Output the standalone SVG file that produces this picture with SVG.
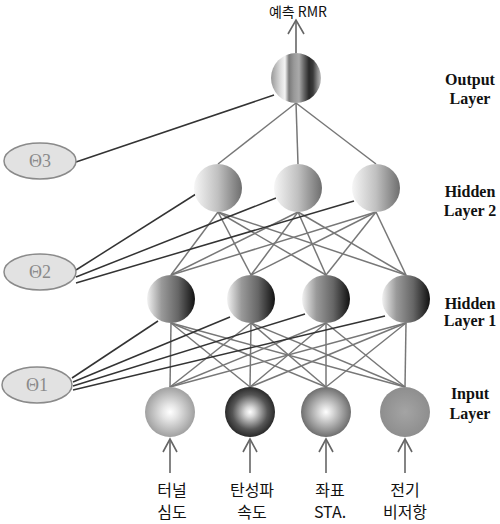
<svg xmlns="http://www.w3.org/2000/svg" width="500" height="524" viewBox="0 0 500 524">
<defs>
<style>
.w{stroke:#777;stroke-width:1.5;fill:none}
.b{stroke:#333;stroke-width:1.5;fill:none}
.ar{stroke:#666;stroke-width:1.6;fill:none}
.th{fill:#e2e2e2;stroke:#8a8a8a;stroke-width:1.5}
.tt{font-family:"Liberation Serif","Times New Roman",serif;font-size:18px;fill:#8a8a8a;text-anchor:middle}
.lay{font-family:"Liberation Serif","Times New Roman",serif;font-weight:bold;font-size:16px;fill:#111;text-anchor:middle}
.kr{font-family:"Noto Sans CJK KR","Noto Sans",sans-serif;font-size:16px;fill:#111;text-anchor:middle}
</style>
<linearGradient id="gOut" x1="0" y1="0" x2="1" y2="0">
<stop offset="0" stop-color="#999"/>
<stop offset="0.2" stop-color="#e0e0e0"/>
<stop offset="0.28" stop-color="#f4f4f4"/>
<stop offset="0.36" stop-color="#7a7a7a"/>
<stop offset="0.46" stop-color="#999"/>
<stop offset="0.56" stop-color="#aaa"/>
<stop offset="0.66" stop-color="#666"/>
<stop offset="0.76" stop-color="#2a2a2a"/>
<stop offset="0.84" stop-color="#3a3a3a"/>
<stop offset="0.93" stop-color="#888"/>
<stop offset="1" stop-color="#bbb"/>
</linearGradient>
<linearGradient id="gH2" x1="0" y1="0" x2="1" y2="0">
<stop offset="0" stop-color="#f6f6f6"/>
<stop offset="0.5" stop-color="#c0c0c0"/>
<stop offset="1" stop-color="#6e6e6e"/>
</linearGradient>
<linearGradient id="gH1" x1="0" y1="0" x2="1" y2="0">
<stop offset="0" stop-color="#f2f2f2"/>
<stop offset="0.3" stop-color="#9a9a9a"/>
<stop offset="0.65" stop-color="#666"/>
<stop offset="1" stop-color="#111"/>
</linearGradient>
<radialGradient id="gI1" cx="0.5" cy="0.5" r="0.5">
<stop offset="0" stop-color="#fff"/>
<stop offset="0.3" stop-color="#e6e6e6"/>
<stop offset="1" stop-color="#a0a0a0"/>
</radialGradient>
<radialGradient id="gI2" cx="0.5" cy="0.5" r="0.5">
<stop offset="0" stop-color="#fff"/>
<stop offset="0.2" stop-color="#d8d8d8"/>
<stop offset="0.7" stop-color="#555"/>
<stop offset="1" stop-color="#2a2a2a"/>
</radialGradient>
<radialGradient id="gI3" cx="0.5" cy="0.5" r="0.5">
<stop offset="0" stop-color="#fff"/>
<stop offset="0.25" stop-color="#dcdcdc"/>
<stop offset="1" stop-color="#6e6e6e"/>
</radialGradient>
<radialGradient id="gI4" cx="0.5" cy="0.5" r="0.5">
<stop offset="0" stop-color="#a4a4a4"/>
<stop offset="1" stop-color="#8e8e8e"/>
</radialGradient>
</defs>
<rect width="500" height="524" fill="#fff"/>

<g id="connectors">
<line class="w" x1="296" y1="103" x2="218" y2="164"/>
<line class="w" x1="296" y1="103" x2="298" y2="164"/>
<line class="w" x1="296" y1="103" x2="376" y2="164"/>
<line class="w" x1="218" y1="212" x2="171" y2="275"/>
<line class="w" x1="218" y1="212" x2="251" y2="275"/>
<line class="w" x1="218" y1="212" x2="326" y2="275"/>
<line class="w" x1="218" y1="212" x2="406" y2="275"/>
<line class="w" x1="298" y1="212" x2="171" y2="275"/>
<line class="w" x1="298" y1="212" x2="251" y2="275"/>
<line class="w" x1="298" y1="212" x2="326" y2="275"/>
<line class="w" x1="298" y1="212" x2="406" y2="275"/>
<line class="w" x1="376" y1="212" x2="171" y2="275"/>
<line class="w" x1="376" y1="212" x2="251" y2="275"/>
<line class="w" x1="376" y1="212" x2="326" y2="275"/>
<line class="w" x1="376" y1="212" x2="406" y2="275"/>
<line class="w" x1="171" y1="323" x2="170" y2="387"/>
<line class="w" x1="171" y1="323" x2="250" y2="387"/>
<line class="w" x1="171" y1="323" x2="326" y2="387"/>
<line class="w" x1="171" y1="323" x2="405" y2="387"/>
<line class="w" x1="251" y1="323" x2="170" y2="387"/>
<line class="w" x1="251" y1="323" x2="250" y2="387"/>
<line class="w" x1="251" y1="323" x2="326" y2="387"/>
<line class="w" x1="251" y1="323" x2="405" y2="387"/>
<line class="w" x1="326" y1="323" x2="170" y2="387"/>
<line class="w" x1="326" y1="323" x2="250" y2="387"/>
<line class="w" x1="326" y1="323" x2="326" y2="387"/>
<line class="w" x1="326" y1="323" x2="405" y2="387"/>
<line class="w" x1="406" y1="323" x2="170" y2="387"/>
<line class="w" x1="406" y1="323" x2="250" y2="387"/>
<line class="w" x1="406" y1="323" x2="326" y2="387"/>
<line class="w" x1="406" y1="323" x2="405" y2="387"/>
<line class="b" x1="76" y1="162" x2="274" y2="95"/>
<line class="b" x1="76" y1="270" x2="196" y2="194"/>
<line class="b" x1="76" y1="277" x2="276" y2="198"/>
<line class="b" x1="76" y1="283" x2="354" y2="201"/>
<line class="b" x1="72" y1="378" x2="158" y2="321"/>
<line class="b" x1="73" y1="382" x2="230" y2="317"/>
<line class="b" x1="73" y1="386" x2="305" y2="314"/>
<line class="b" x1="73" y1="390" x2="385" y2="316"/>
<line class="ar" x1="296" y1="53" x2="296" y2="20"/>
<polyline class="ar" points="288,34 296,20 304,34"/>
<line class="ar" x1="170" y1="473" x2="170" y2="439"/>
<polyline class="ar" points="163,452 170,439 177,452"/>
<line class="ar" x1="250" y1="473" x2="250" y2="439"/>
<polyline class="ar" points="243,452 250,439 257,452"/>
<line class="ar" x1="326" y1="473" x2="326" y2="439"/>
<polyline class="ar" points="319,452 326,439 333,452"/>
<line class="ar" x1="405" y1="473" x2="405" y2="439"/>
<polyline class="ar" points="398,452 405,439 412,452"/>
</g>

<g id="theta3"><ellipse class="th" cx="40" cy="161" rx="36" ry="18"/><text class="tt" x="40" y="167">Θ3</text></g>
<g id="theta2"><ellipse class="th" cx="40" cy="272" rx="36" ry="18"/><text class="tt" x="40" y="278">Θ2</text></g>
<g id="theta1"><ellipse class="th" cx="37" cy="385" rx="35" ry="18"/><text class="tt" x="37" y="391">Θ1</text></g>

<g id="out"><circle cx="296" cy="78" r="25" fill="url(#gOut)"/></g>

<g id="h2a"><circle cx="218" cy="188" r="24" fill="url(#gH2)"/></g>
<g id="h2b"><circle cx="298" cy="188" r="24" fill="url(#gH2)"/></g>
<g id="h2c"><circle cx="376" cy="188" r="24" fill="url(#gH2)"/></g>

<g id="h1a"><circle cx="171" cy="299" r="24" fill="url(#gH1)"/></g>
<g id="h1b"><circle cx="251" cy="299" r="24" fill="url(#gH1)"/></g>
<g id="h1c"><circle cx="326" cy="299" r="24" fill="url(#gH1)"/></g>
<g id="h1d"><circle cx="406" cy="299" r="24" fill="url(#gH1)"/></g>

<g id="in1"><circle cx="170" cy="412" r="25" fill="url(#gI1)"/></g>
<g id="in2"><circle cx="250" cy="412" r="25" fill="url(#gI2)"/></g>
<g id="in3"><circle cx="326" cy="412" r="25" fill="url(#gI3)"/></g>
<g id="in4"><circle cx="405" cy="412" r="25" fill="url(#gI4)"/></g>

<g id="labels">
<text class="kr" x="298" y="17" style="font-size:14px">예측 RMR</text>
<text class="lay" x="470" y="85">Output</text>
<text class="lay" x="470" y="104">Layer</text>
<text class="lay" x="470" y="197">Hidden</text>
<text class="lay" x="470" y="216">Layer 2</text>
<text class="lay" x="470" y="309">Hidden</text>
<text class="lay" x="470" y="326">Layer 1</text>
<text class="lay" x="470" y="399">Input</text>
<text class="lay" x="470" y="419">Layer</text>
<text class="kr" x="172" y="496">터널</text>
<text class="kr" x="172" y="518">심도</text>
<text class="kr" x="252" y="496">탄성파</text>
<text class="kr" x="252" y="518">속도</text>
<text class="kr" x="330" y="496">좌표</text>
<text class="kr" x="330" y="518">STA.</text>
<text class="kr" x="405" y="496">전기</text>
<text class="kr" x="405" y="518">비저항</text>
</g>
</svg>
